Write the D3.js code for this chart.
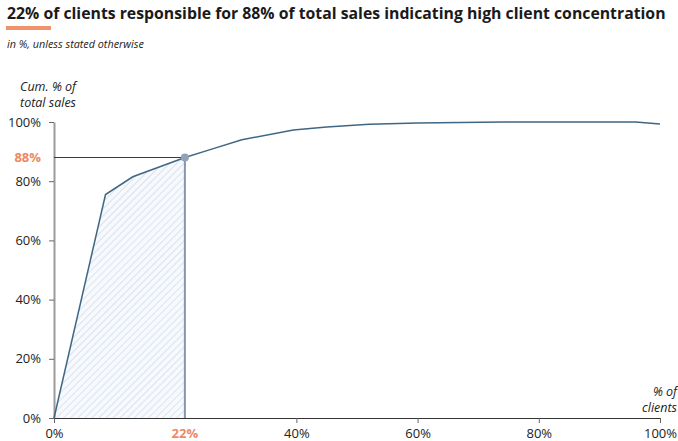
<!DOCTYPE html>
<html><head><meta charset="utf-8">
<script src="https://cdn.jsdelivr.net/npm/d3@7"></script>
<style>body{margin:0;background:#fff;} text{font-family:"Open Sans",sans-serif;}</style>
</head><body><svg id="c" width="678" height="441"></svg>
<script>
const clientPct = [0, 8.5, 13, 21.6, 25.5, 31, 39.5, 45, 52, 60, 74, 88, 96, 100];
const salesPct  = [0, 75.5, 81.5, 88, 90.5, 94, 97.3, 98.3, 99.2, 99.7, 100, 100, 100, 99.3];
const xTicks = [0, 40, 60, 80, 100];
const yTicks = [0, 20, 40, 60, 80, 100];
const highlight = {x: 21.6, y: 88, xLabel: "22%", yLabel: "88%"};
const title = "22% of clients responsible for 88% of total sales indicating high client concentration";
const subtitle = "in %, unless stated otherwise";
const yTitle = ["Cum. % of", "total sales"];
const xTitle = ["% of", "clients"];

const svg = d3.select("#c");
const x = d3.scaleLinear().domain([0,100]).range([54,660]);
const y = d3.scaleLinear().domain([0,100]).range([418,122]);
const data = clientPct.map((c,i)=>({x:c,y:salesPct[i]}));

svg.append("text").attr("x",7).attr("y",19).attr("font-size",15.8).attr("font-weight",700).attr("fill","#1a1a1a").text(title);
svg.append("rect").attr("x",6).attr("y",26).attr("width",45).attr("height",4).attr("fill","#f0926c");
svg.append("text").attr("x",7).attr("y",48).attr("font-size",10.8).attr("font-style","italic").attr("fill","#222").text(subtitle);

const defs = svg.append("defs");
const pat = defs.append("pattern").attr("id","hatch").attr("patternUnits","userSpaceOnUse")
  .attr("width",5).attr("height",5).attr("patternTransform","rotate(45)");
pat.append("rect").attr("width",5).attr("height",5).attr("fill","#f7f9fc");
pat.append("line").attr("x1",0).attr("y1",0).attr("x2",0).attr("y2",5).attr("stroke","#d9e4f0").attr("stroke-width",2);

const areaData = data.filter(d=>d.x<=highlight.x);
svg.append("path").datum(areaData).attr("fill","url(#hatch)")
  .attr("d", d3.area().x(d=>x(d.x)).y0(y(0)).y1(d=>y(d.y)));

// y axis
const ya = svg.append("g").attr("transform",`translate(${x(0)},0)`)
  .call(d3.axisLeft(y).tickValues(yTicks).tickFormat(d=>d+"%").tickSize(5).tickSizeOuter(0));
ya.select(".domain").attr("stroke","#9a9a9a").attr("stroke-width",2);
ya.selectAll(".tick line").attr("stroke","#666");
ya.selectAll(".tick text").attr("font-size",13).attr("fill","#222").attr("x",-13).attr("font-family","Open Sans");
// x axis
const xa = svg.append("g").attr("transform",`translate(0,${y(0)})`)
  .call(d3.axisBottom(x).tickValues(xTicks).tickFormat(d=>d+"%").tickSize(5).tickSizeOuter(0));
xa.select(".domain").attr("stroke","#333").attr("stroke-width",1);
xa.selectAll(".tick line").attr("stroke","#666");
xa.selectAll(".tick text").attr("font-size",13).attr("fill","#222").attr("y",11).attr("font-family","Open Sans");

// highlight lines
svg.append("line").attr("x1",x(0)).attr("x2",x(highlight.x)).attr("y1",y(highlight.y)).attr("y2",y(highlight.y))
  .attr("stroke","#2c3a4e").attr("stroke-width",1);
svg.append("line").attr("x1",x(highlight.x)).attr("x2",x(highlight.x)).attr("y1",y(highlight.y)).attr("y2",y(0))
  .attr("stroke","#8797ab").attr("stroke-width",2);

svg.append("path").datum(data).attr("fill","none").attr("stroke","#3f6783").attr("stroke-width",1.5)
  .attr("d", d3.line().x(d=>x(d.x)).y(d=>y(d.y)));

svg.append("circle").attr("cx",x(highlight.x)).attr("cy",y(highlight.y)).attr("r",4).attr("fill","#8ea3ba");

svg.append("text").attr("x",x(0)-13).attr("y",y(highlight.y)).attr("dy","0.32em").attr("text-anchor","end")
  .attr("font-size",13).attr("font-weight",700).attr("fill","#ec8a63").text(highlight.yLabel);
svg.append("text").attr("x",x(highlight.x)).attr("y",y(0)+11).attr("dy","0.71em").attr("text-anchor","middle")
  .attr("font-size",13).attr("font-weight",700).attr("fill","#ec8a63").text(highlight.xLabel);

// axis titles (separate lines)
yTitle.forEach((t,i)=>svg.append("text").attr("text-anchor","end").attr("font-size",12.5).attr("font-style","italic")
  .attr("fill","#222").attr("x",76).attr("y",91+i*16).text(t));
xTitle.forEach((t,i)=>svg.append("text").attr("text-anchor","end").attr("font-size",12.5).attr("font-style","italic")
  .attr("fill","#222").attr("x",677).attr("y",396+i*16).text(t));
</script></body></html>
